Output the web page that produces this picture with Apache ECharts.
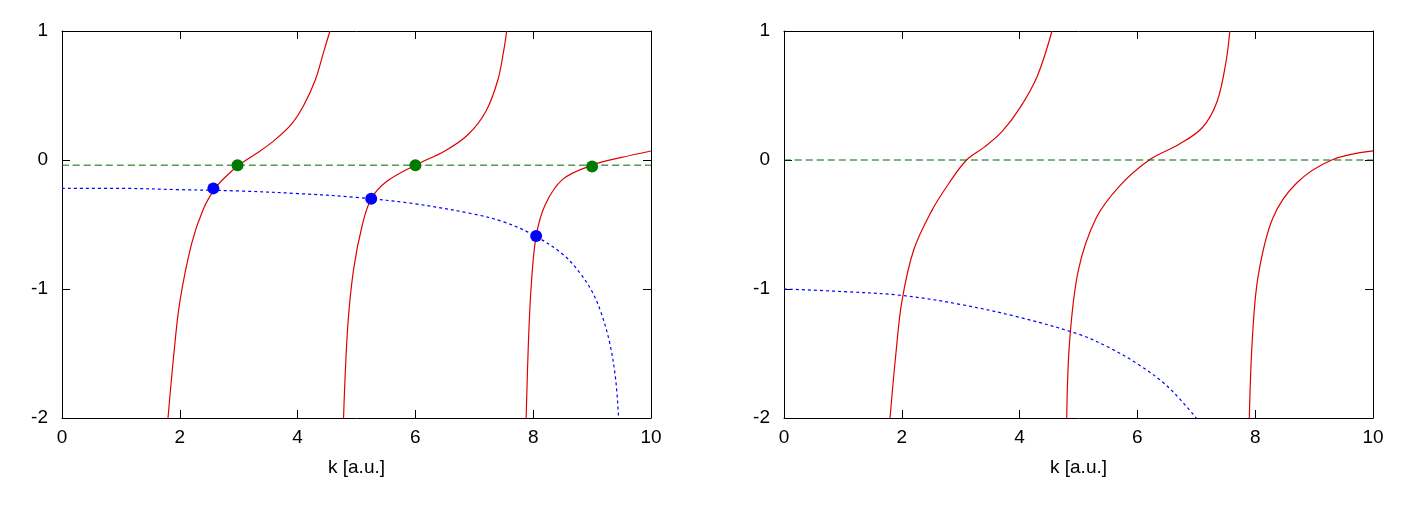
<!DOCTYPE html>
<html><head><meta charset="utf-8">
<script src="https://cdn.jsdelivr.net/npm/echarts@6/dist/echarts.min.js"></script>
<style>body{margin:0}#c{width:1410px;height:510px}</style></head>
<body><div id="c"></div>
<script>
const xTicks=[0,2,4,6,8,10];
const yTicks=[-2,-1,0,1];
const redL1=[[1.8,-2],[1.9,-1.5],[2.0,-1.1],[2.2,-0.65],[2.4,-0.38],[2.6,-0.22],[2.8,-0.12],[3.0,-0.04],[3.3,0.05],[3.6,0.15],[3.9,0.28],[4.1,0.42],[4.3,0.62],[4.45,0.85],[4.55,1]];
const redL2=[[4.78,-2],[4.85,-1.3],[4.95,-0.85],[5.1,-0.5],[5.25,-0.3],[5.5,-0.17],[6.0,-0.04],[6.5,0.07],[6.9,0.2],[7.2,0.38],[7.4,0.62],[7.5,0.85],[7.55,1]];
const redL3=[[7.88,-2],[7.92,-1.4],[7.97,-0.95],[8.05,-0.59],[8.2,-0.35],[8.5,-0.15],[9.0,-0.04],[9.5,0.02],[10,0.07]];
const redR1=[[1.8,-2],[1.9,-1.5],[2.0,-1.1],[2.2,-0.7],[2.5,-0.4],[2.8,-0.18],[3.1,0],[3.4,0.1],[3.7,0.22],[4.0,0.4],[4.3,0.65],[4.55,1]];
const redR2=[[4.8,-2],[4.85,-1.4],[5.0,-0.85],[5.3,-0.45],[5.7,-0.2],[6.2,0],[6.7,0.12],[7.1,0.25],[7.35,0.45],[7.5,0.75],[7.57,1]];
const redR3=[[7.9,-2],[7.95,-1.4],[8.05,-0.9],[8.3,-0.45],[8.7,-0.18],[9.3,0],[10,0.07]];
const blueL=[[0,-0.22],[1,-0.22],[2,-0.23],[3,-0.24],[4,-0.26],[5,-0.29],[6,-0.34],[7,-0.42],[7.5,-0.48],[8,-0.58],[8.5,-0.73],[8.8,-0.88],[9.0,-1.02],[9.15,-1.18],[9.3,-1.42],[9.4,-1.7],[9.45,-2]];
const blueR=[[0,-1],[1,-1.02],[2,-1.05],[3,-1.12],[4,-1.22],[5,-1.35],[5.5,-1.45],[6,-1.58],[6.5,-1.75],[7,-2]];
const greenL=[[0,-0.04],[10,-0.04]];
const greenR=[[0,0],[10,0]];
const dotsGreen=[[2.98,-0.04],[6.0,-0.04],[9.0,-0.05]];
const dotsBlue=[[2.57,-0.22],[5.25,-0.3],[8.05,-0.59]];

const F='Liberation Sans';
function xa(g,pos,lab){return {type:'value',gridIndex:g,position:pos,min:0,max:10,interval:2,
 axisLine:{show:true,onZero:false,lineStyle:{color:'#000',width:1}},axisTick:{inside:true,length:8,lineStyle:{color:'#000'}},
 axisLabel:{show:lab,color:'#000',fontSize:19,fontFamily:F,margin:10},splitLine:{show:false},
 name:lab?'k [a.u.]':'',nameLocation:'middle',nameGap:40,nameTextStyle:{color:'#000',fontSize:19,fontFamily:F}};}
function ya(g,pos,lab){return {type:'value',gridIndex:g,position:pos,min:-2,max:1,interval:1,
 axisLine:{show:true,onZero:false,lineStyle:{color:'#000',width:1}},axisTick:{inside:true,length:8,lineStyle:{color:'#000'}},
 axisLabel:{show:lab,color:'#000',fontSize:19,fontFamily:F,margin:14},splitLine:{show:false}};}
function line(d,c,type,xi,yi,w){return {type:'line',data:d,xAxisIndex:xi,yAxisIndex:yi,smooth:0.35,symbol:'none',
 lineStyle:{color:c,width:w||1.2,type:type},clip:true,z:2};}
const opt={animation:false,backgroundColor:'#fff',
 grid:[{left:62,top:31,width:589,height:387},{left:784,top:31,width:589,height:387}],
 xAxis:[xa(0,'bottom',true),xa(0,'top',false),xa(1,'bottom',true),xa(1,'top',false)],
 yAxis:[ya(0,'left',true),ya(0,'right',false),ya(1,'left',true),ya(1,'right',false)],
 series:[
  line(redL1,'#e00000','solid',0,0),line(redL2,'#e00000','solid',0,0),line(redL3,'#e00000','solid',0,0),
  line(greenL,'#006400',[7,4],0,0,1),line(blueL,'#0000ff',[3,3],0,0),
  line(redR1,'#e00000','solid',2,2),line(redR2,'#e00000','solid',2,2),line(redR3,'#e00000','solid',2,2),
  line(greenR,'#006400',[7,4],2,2,1),line(blueR,'#0000ff',[3,3],2,2),
  {type:'scatter',data:dotsGreen,xAxisIndex:0,yAxisIndex:0,symbolSize:12,itemStyle:{color:'#007a00',opacity:1},z:5},
  {type:'scatter',data:dotsBlue,xAxisIndex:0,yAxisIndex:0,symbolSize:12,itemStyle:{color:'#0000ff',opacity:1},z:5}
 ]};
echarts.init(document.getElementById('c')).setOption(opt);
</script></body></html>
